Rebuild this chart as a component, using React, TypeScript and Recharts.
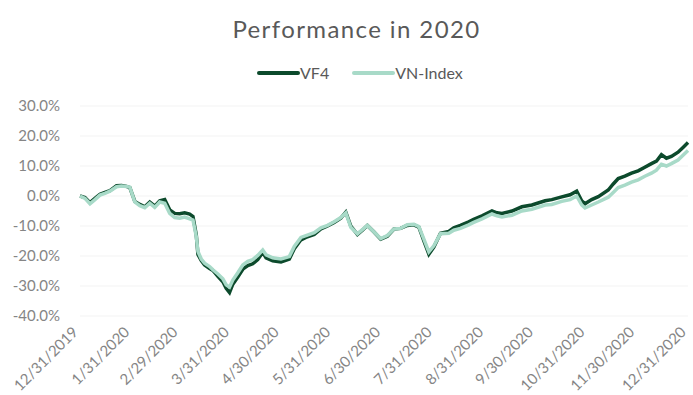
import React from "react";
import { LineChart, Line, XAxis, YAxis, CartesianGrid } from "recharts";

// day offset from 12/31/2019
const days = [
  0, 3, 6, 9, 12, 15, 18, 22, 25, 28, 30, 33, 36, 39, 42, 45, 48, 51, 54, 57,
  60, 63, 66, 68, 70, 71, 73, 75, 78, 80, 83, 86, 88, 90, 92, 95, 98, 101, 104, 107,
  110, 112, 116, 121, 126, 129, 133, 136, 141, 145, 149, 153, 157, 160, 163, 167, 170, 173, 177, 181,
  185, 189, 193, 197, 201, 204, 207, 210, 213, 217, 222, 225, 229, 234, 237, 242, 248, 251, 254, 260,
  266, 272, 280, 284, 290, 295, 299, 302, 304, 308, 312, 318, 321, 324, 328, 332, 336, 340, 344, 347,
  350, 353, 356, 360, 363, 366,
];

const vf4 = [
  0, -0.5, -2.2, -0.8, 0.6, 1.2, 1.8, 3.4, 3.5, 3.2, 2.8, -1.8, -2.8, -3.6, -2.0, -3.4, -1.6, -1.2, -4.6, -5.8,
  -5.9, -5.6, -6.0, -6.8, -13.0, -19.5, -21.5, -23.0, -24.2, -24.8, -26.8, -28.6, -30.8, -32.2, -29.4, -27.0, -24.4, -23.2, -22.6, -21.2,
  -18.8, -20.6, -21.6, -22.0, -21.0, -17.6, -14.6, -13.8, -12.8, -11.0, -10.0, -8.8, -7.4, -5.4, -10.0, -12.8, -11.4, -9.8, -12.0, -14.4,
  -13.4, -11.0, -10.8, -9.8, -9.6, -10.4, -15.0, -19.4, -17.0, -12.4, -11.8, -10.6, -9.8, -8.6, -7.8, -6.6, -5.0, -5.6, -5.8, -5.0,
  -3.6, -3.0, -1.6, -1.2, -0.3, 0.4, 1.6, -1.6, -2.6, -1.2, -0.2, 2.0, 4.0, 5.8, 6.6, 7.6, 8.4, 9.6, 10.8, 11.6,
  13.8, 12.6, 13.2, 14.6, 16.2, 17.8,
];

const vnIndex = [
  0, -0.8, -2.6, -1.2, 0.3, 0.9, 1.6, 3.1, 3.3, 3.2, 2.9, -2.0, -3.2, -3.9, -2.4, -3.8, -2.0, -2.4, -5.8, -7.2,
  -7.4, -7.0, -7.6, -8.0, -13.5, -18.5, -21.0, -22.4, -23.5, -24.6, -26.0, -27.6, -29.6, -30.4, -28.0, -25.6, -23.0, -21.8, -21.2, -19.8,
  -18.0, -19.6, -20.6, -21.0, -20.2, -16.8, -13.8, -13.2, -12.2, -10.6, -9.8, -8.6, -7.2, -5.6, -10.4, -12.6, -11.2, -9.8, -12.0, -14.2,
  -13.2, -11.0, -10.8, -9.6, -9.4, -10.2, -14.4, -18.6, -16.6, -12.6, -12.4, -11.4, -10.8, -9.6, -8.8, -7.6, -6.0, -6.6, -7.0, -6.4,
  -5.0, -4.4, -3.0, -2.8, -1.8, -1.2, 0.0, -3.0, -4.0, -3.0, -2.0, -0.4, 1.2, 2.8, 3.6, 4.6, 5.4, 6.6, 7.6, 8.6,
  10.6, 10.0, 10.8, 12.0, 13.6, 15.2,
];

const tickDays = [0, 31, 60, 91, 121, 152, 182, 213, 244, 274, 305, 335, 366];
const tickLabels = [
  "12/31/2019", "1/31/2020", "2/29/2020", "3/31/2020", "4/30/2020", "5/31/2020", "6/30/2020",
  "7/31/2020", "8/31/2020", "9/30/2020", "10/31/2020", "11/30/2020", "12/31/2020",
];
const yTicks = [-40, -30, -20, -10, 0, 10, 20, 30];

const data = days.map((d, i) => ({ day: d, vf4: vf4[i], vn: vnIndex[i] }));

const FONT = "Lato, 'Open Sans', sans-serif";
const GRAY = "#858585";
const DARK = "#0c4a2c";
const LIGHT = "#a8dac8";

const DateTick = (props: any) => {
  const { x, payload } = props;
  const idx = tickDays.indexOf(payload.value);
  return (
    <g transform={`translate(${x - 1},${333})`}>
      <text x={0} y={0} textAnchor="end" transform="rotate(-45)" fill={GRAY} fontSize={15} fontFamily={FONT}>
        {tickLabels[idx]}
      </text>
    </g>
  );
};

export default function App() {
  return (
    <div style={{ position: "relative", width: 693, height: 395, background: "#fff" }}>
      <style>{`body{margin:0}`}</style>
      <div
        style={{
          position: "absolute", top: 14, left: 20, width: 673, textAlign: "center",
          fontFamily: FONT, fontSize: 24, letterSpacing: 1.4, color: "#595959",
        }}
      >
        Performance in 2020
      </div>
      <div
        style={{
          position: "absolute", top: 63, left: 256, display: "flex", alignItems: "center",
          fontFamily: FONT, fontSize: 16, color: "#595959", lineHeight: "20px",
        }}
      >
        <svg width={44} height={8}><line x1={3} y1={4} x2={42} y2={4} stroke={DARK} strokeWidth={4} strokeLinecap="round" /></svg>
        <span style={{ marginRight: 22 }}>VF4</span>
        <svg width={44} height={8}><line x1={3} y1={4} x2={42} y2={4} stroke={LIGHT} strokeWidth={4} strokeLinecap="round" /></svg>
        <span>VN-Index</span>
      </div>
      <LineChart width={693} height={395} data={data} margin={{ top: 106, right: 5, left: 0, bottom: 0 }}>
        <CartesianGrid vertical={false} stroke="#f3f3f3" />
        <XAxis
          dataKey="day"
          type="number"
          domain={[0, 366]}
          ticks={tickDays}
          interval={0}
          axisLine={false}
          tickLine={false}
          height={79}
          tick={<DateTick />}
        />
        <YAxis
          domain={[-40, 30]}
          ticks={yTicks}
          width={80}
          axisLine={false}
          tickLine={false}
          tickSize={0}
          tickMargin={20}
          tick={{ fill: GRAY, fontSize: 15, fontFamily: FONT }}
          tickFormatter={(v: number) => `${v.toFixed(1)}%`}
        />
        <Line type="linear" dataKey="vf4" stroke={DARK} strokeWidth={3.5} dot={false} isAnimationActive={false} />
        <Line type="linear" dataKey="vn" stroke={LIGHT} strokeWidth={3.5} dot={false} isAnimationActive={false} />
      </LineChart>
    </div>
  );
}
